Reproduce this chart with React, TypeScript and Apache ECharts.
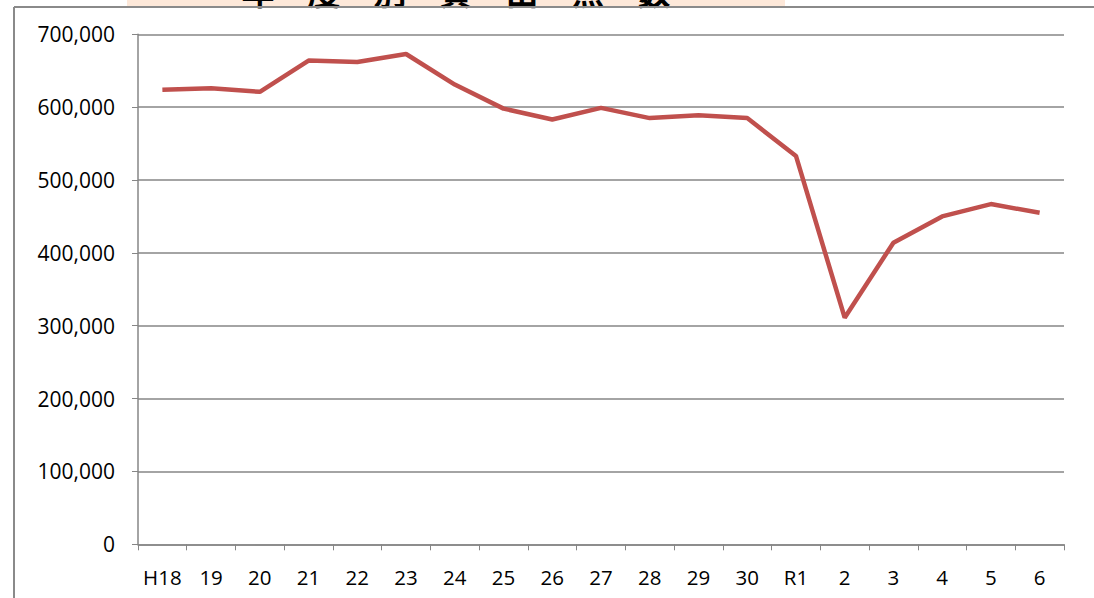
import React, { useEffect, useRef } from "react";
import * as echarts from "echarts";

const categories = ["H18", "19", "20", "21", "22", "23", "24", "25", "26", "27", "28", "29", "30", "R1", "2", "3", "4", "5", "6"];
const loans = [624000, 626000, 621000, 664000, 662000, 673000, 631000, 598000, 583000, 599000, 585000, 589000, 585000, 533000, 311000, 414000, 450000, 467000, 455000];
const yTicks = { min: 0, max: 700000, interval: 100000 };
const titleText = "年　度　別　貸　出　点　数";

export default function App() {
  const ref = useRef<HTMLDivElement>(null);
  useEffect(() => {
    if (!ref.current) return;
    const chart = echarts.init(ref.current, null, { renderer: "svg" });
    const gray = "#868686";
    const font = "'Open Sans', sans-serif";
    chart.setOption({
      animation: false,
      backgroundColor: "#ffffff",
      grid: { left: 138, right: 30, top: 34.3, bottom: 53.7, containLabel: false },
      xAxis: {
        type: "category",
        data: categories,
        boundaryGap: true,
        axisLine: { show: true, lineStyle: { color: gray, width: 1.5 } },
        axisTick: { show: true, length: 6, interval: 0, lineStyle: { color: gray, width: 1 } },
        axisLabel: { interval: 0, margin: 22, color: "#000", fontSize: 20.5, fontFamily: font },
      },
      yAxis: {
        type: "value",
        min: yTicks.min,
        max: yTicks.max,
        interval: yTicks.interval,
        axisLine: { show: true, lineStyle: { color: gray, width: 1.5 } },
        axisTick: { show: true, length: 6, lineStyle: { color: gray, width: 1 } },
        axisLabel: {
          margin: 23,
          color: "#000",
          fontSize: 21,
          fontFamily: font,
          formatter: (v: number) => v.toLocaleString("en-US"),
        },
        splitLine: { show: true, lineStyle: { color: gray, width: 1.5 } },
      },
      series: [
        {
          type: "line",
          data: loans,
          showSymbol: false,
          symbol: "none",
          lineStyle: { color: "#C0504D", width: 4.5 },
          itemStyle: { color: "#C0504D" },
          z: 5,
        },
      ],
      graphic: [
        { type: "rect", shape: { x: 127, y: 0, width: 658, height: 6.5 }, style: { fill: "#FDE8D9" }, z: 1 },
        {
          type: "text",
          x: 456,
          y: 7,
          style: {
            text: titleText,
            fontSize: 33,
            fontWeight: "bold",
            fontFamily: "'Noto Sans CJK JP', sans-serif",
            fill: "#000",
            align: "center",
            verticalAlign: "bottom",
          },
          z: 2,
        },
        { type: "line", shape: { x1: 14, y1: 7, x2: 1094, y2: 7 }, style: { stroke: "#8a8a8a", lineWidth: 2 }, z: 3 },
        { type: "line", shape: { x1: 14, y1: 7, x2: 14, y2: 598 }, style: { stroke: "#8a8a8a", lineWidth: 2 }, z: 3 },
      ],
    });
    return () => chart.dispose();
  }, []);
  return <div ref={ref} style={{ position: "absolute", left: 0, top: 0, width: 1094, height: 598 }} />;
}
